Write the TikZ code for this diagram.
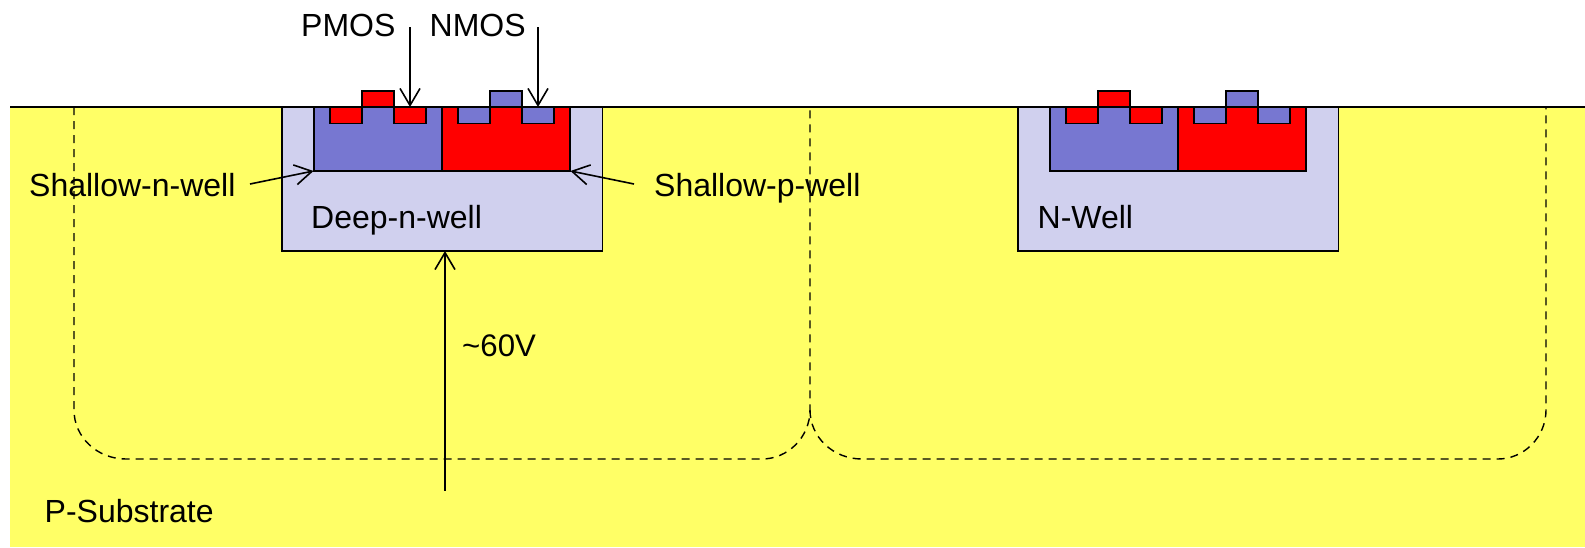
\documentclass[tikz,border=0pt]{standalone}
\usepackage{fontspec}
\setmainfont{Liberation Sans}
\usetikzlibrary{arrows.meta}
\definecolor{substrate}{RGB}{255,255,102}
\definecolor{deepwell}{RGB}{208,208,238}
\definecolor{nblue}{RGB}{119,119,209}
\definecolor{pred}{RGB}{255,0,0}
\tikzset{
  x=1pt,y=-1pt,
  outline/.style={draw=black,line width=1.6pt,line join=miter},
  label/.style={inner sep=0pt,anchor=base west,font=\fontsize{32}{32}\selectfont,text=black},
  pointer/.style={draw=black,line width=1.6pt,-{Straight Barb[length=17pt,width=20pt,line width=1.6pt]}},
  guard/.style={draw=black,line width=1.4pt,dash pattern=on 8pt off 6pt},
  cmos/.pic={
    \path[outline,fill=deepwell] (0,0) rectangle (320.5,144.2);
    \path[outline,fill=nblue] (32,0) rectangle (160,64.2);
    \path[outline,fill=pred] (160,0) rectangle (288,64.2);
    \path[outline,fill=pred] (48,0) rectangle (80,16.3);
    \path[outline,fill=pred] (112,0) rectangle (144,16.3);
    \path[outline,fill=pred] (80,-16.3) rectangle (112,0);
    \path[outline,fill=nblue] (176,0) rectangle (208,16.3);
    \path[outline,fill=nblue] (240,0) rectangle (272,16.3);
    \path[outline,fill=nblue] (208,-16.3) rectangle (240,0);
  }
}
\begin{document}
\begin{tikzpicture}
\useasboundingbox (0,0) rectangle (1585,547);
\fill[substrate] (10,107) rectangle (1585,547);
\path (282,107) pic {cmos};
\path (1018,107) pic {cmos};
\draw[draw=black,line width=1.6pt] (10,107) -- (1585,107);
\draw[guard] (74,107) -- (74,410) .. controls (74,437) and (97,459) .. (126,459) -- (762,459) .. controls (788,459) and (810,437) .. (810,410) -- (810,107);
\draw[guard] (810,410) .. controls (810,437) and (833,459) .. (862,459) -- (1498,459) .. controls (1524,459) and (1546,437) .. (1546,410) -- (1546,107);
\coordinate (pt) at (410,27); \coordinate (ph) at (410,107);
\coordinate (nt) at (538,27); \coordinate (nh) at (538,107);
\coordinate (st) at (250,184); \coordinate (sh) at (313.5,171);
\coordinate (rt) at (634,184); \coordinate (rh) at (570.5,171);
\coordinate (vt) at (445,490.7); \coordinate (vh) at (445,251);
\draw[pointer] (pt) -- (ph);
\draw[pointer] (nt) -- (nh);
\draw[pointer] (st) -- (sh);
\draw[pointer] (rt) -- (rh);
\draw[pointer] (vt) -- (vh);
\node[label] (pmos) at (301,36) {PMOS};
\node[label] (nmos) at (429.5,36) {NMOS};
\node[label] (sn) at (29,196) {Shallow-n-well};
\node[label] (sp) at (654,196) {Shallow-p-well};
\node[label] (dn) at (311,228) {Deep-n-well};
\node[label] (nw) at (1037.5,228) {N-Well};
\node[label,font=\fontsize{31.2}{32}\selectfont] (v) at (462,356) {\char`\~60V};
\node[label] (ps) at (44.5,522) {P-Substrate};
\end{tikzpicture}
\end{document}
